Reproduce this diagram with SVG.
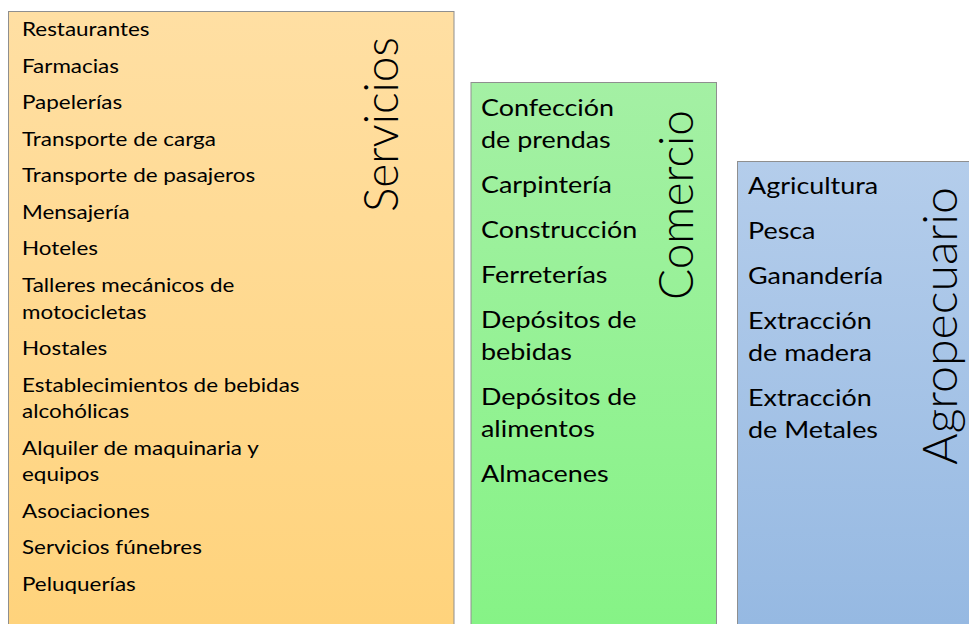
<svg xmlns="http://www.w3.org/2000/svg" width="969" height="624" viewBox="0 0 969 624">
<defs>
<linearGradient id="gS" gradientUnits="userSpaceOnUse" x1="0" y1="12" x2="0" y2="624">
<stop offset="0" stop-color="#FFDFA3"/><stop offset="1" stop-color="#FFD37C"/>
</linearGradient>
<linearGradient id="gC" gradientUnits="userSpaceOnUse" x1="0" y1="83" x2="0" y2="624">
<stop offset="0" stop-color="#A4F0A4"/><stop offset="1" stop-color="#86F386"/>
</linearGradient>
<linearGradient id="gA" gradientUnits="userSpaceOnUse" x1="0" y1="162" x2="0" y2="624">
<stop offset="0" stop-color="#B4CDEB"/><stop offset="1" stop-color="#96B9E2"/>
</linearGradient>
</defs>
<style>
.box{stroke:#8f8f8f;stroke-width:1}
.item{font-family:Lato,"Open Sans","Liberation Sans",sans-serif;fill:#000}
.s{font-size:18.7px}
.c{font-size:23px}
.title{font-family:Lato,"Open Sans","Liberation Sans",sans-serif;font-weight:300;font-size:47px;fill:#000}
</style>
<rect width="969" height="624" fill="#fff"/>
<g id="servicios">
<rect class="box" x="8.5" y="11.5" width="445.5" height="620" fill="url(#gS)"/>
<g transform="translate(22 0) scale(1.2 1)" class="item s">
<text x="0" y="36.5">Restaurantes</text>
<text x="0" y="73">Farmacias</text>
<text x="0" y="109.5">Papelerías</text>
<text x="0" y="146">Transporte de carga</text>
<text x="0" y="182.5">Transporte de pasajeros</text>
<text x="0" y="219">Mensajería</text>
<text x="0" y="255.5">Hoteles</text>
<text x="0" y="292.5">Talleres mecánicos de</text>
<text x="0" y="319">motocicletas</text>
<text x="0" y="355.5">Hostales</text>
<text x="0" y="392">Establecimientos de bebidas</text>
<text x="0" y="418.5">alcohólicas</text>
<text x="0" y="455">Alquiler de maquinaria y</text>
<text x="0" y="481.5">equipos</text>
<text x="0" y="518">Asociaciones</text>
<text x="0" y="554.5">Servicios fúnebres</text>
<text x="0" y="591">Peluquerías</text>
</g>
<text class="title" transform="translate(398 212) rotate(-90)" textLength="175" lengthAdjust="spacingAndGlyphs">Servicios</text>
</g>
<g id="comercio">
<rect class="box" x="471" y="82.5" width="245.5" height="560" fill="url(#gC)"/>
<g transform="translate(481 0) scale(1.17 1)" class="item c">
<text x="0" y="116">Confección</text>
<text x="0" y="148">de prendas</text>
<text x="0" y="193">Carpintería</text>
<text x="0" y="238">Construcción</text>
<text x="0" y="283">Ferreterías</text>
<text x="0" y="328">Depósitos de</text>
<text x="0" y="360">bebidas</text>
<text x="0" y="405">Depósitos de</text>
<text x="0" y="437">alimentos</text>
<text x="0" y="482">Almacenes</text>
</g>
<text class="title" transform="translate(693 300) rotate(-90)" textLength="190" lengthAdjust="spacingAndGlyphs">Comercio</text>
</g>
<g id="agropecuario">
<rect class="box" x="737.5" y="161.5" width="250" height="480" fill="url(#gA)"/>
<g transform="translate(748 0) scale(1.17 1)" class="item c">
<text x="0" y="194">Agricultura</text>
<text x="0" y="239">Pesca</text>
<text x="0" y="284">Ganandería</text>
<text x="0" y="329">Extracción</text>
<text x="0" y="361">de madera</text>
<text x="0" y="406">Extracción</text>
<text x="0" y="438">de Metales</text>
</g>
<text class="title" transform="translate(957 465) rotate(-90)" textLength="278" lengthAdjust="spacingAndGlyphs">Agropecuario</text>
</g>
<g id="connectors"></g>
</svg>
